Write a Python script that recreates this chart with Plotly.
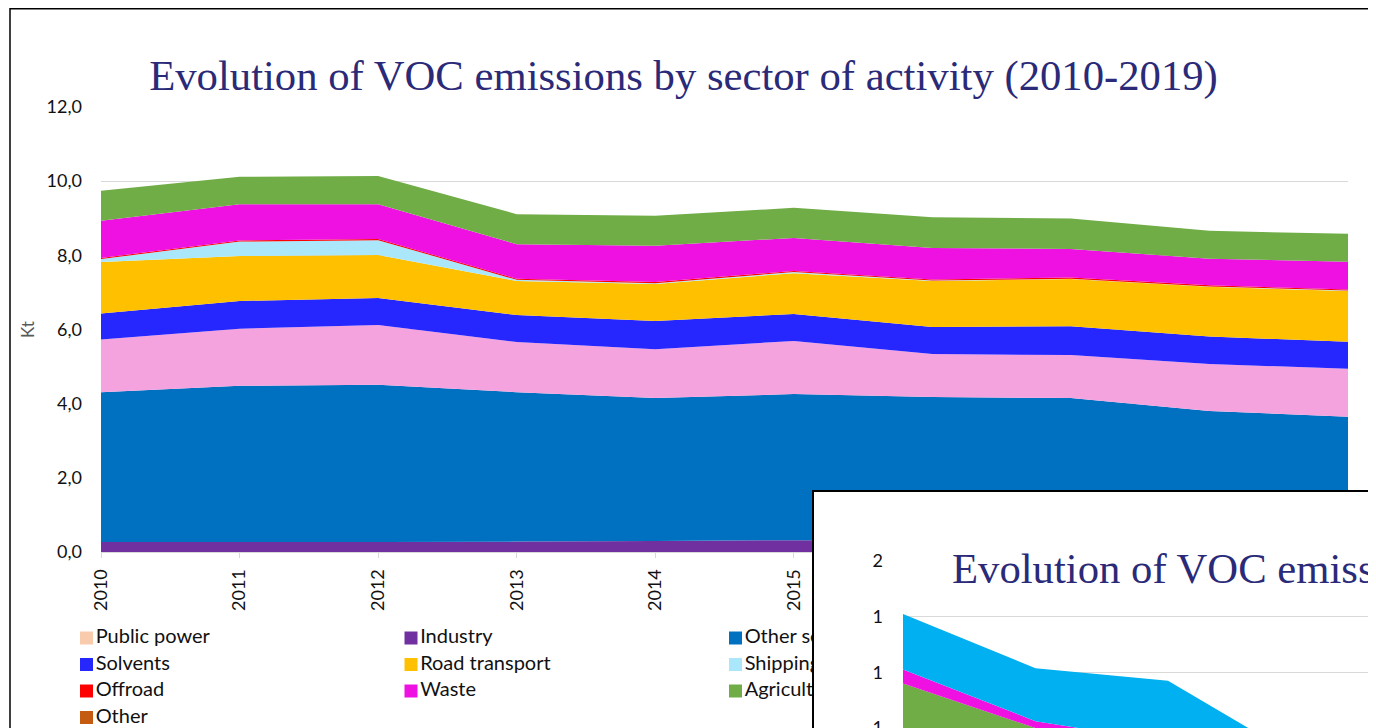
import plotly.graph_objects as go

# ---------------- data (Kt) ----------------
years = [2010, 2011, 2012, 2013, 2014, 2015, 2016, 2017, 2018, 2019]

public_power   = [0.00, 0.00, 0.00, 0.00, 0.00, 0.00, 0.00, 0.00, 0.00, 0.00]
industry       = [0.27, 0.27, 0.27, 0.28, 0.30, 0.32, 0.32, 0.32, 0.32, 0.32]
other_sectors  = [4.04, 4.21, 4.24, 4.03, 3.85, 3.94, 3.86, 3.83, 3.48, 3.33]
unlabelled     = [1.42, 1.54, 1.61, 1.35, 1.32, 1.43, 1.16, 1.16, 1.27, 1.29]
solvents       = [0.70, 0.75, 0.73, 0.73, 0.76, 0.73, 0.73, 0.78, 0.74, 0.73]
road_transport = [1.39, 1.21, 1.16, 0.92, 1.00, 1.10, 1.24, 1.27, 1.34, 1.37]
shipping       = [0.08, 0.39, 0.40, 0.03, 0.02, 0.03, 0.01, 0.01, 0.01, 0.01]
offroad        = [0.03, 0.03, 0.03, 0.03, 0.03, 0.03, 0.03, 0.03, 0.03, 0.03]
waste          = [1.00, 0.98, 0.94, 0.93, 0.98, 0.89, 0.85, 0.77, 0.72, 0.75]
agriculture    = [0.81, 0.74, 0.76, 0.81, 0.81, 0.81, 0.83, 0.82, 0.75, 0.75]
other          = [0.00, 0.00, 0.00, 0.00, 0.00, 0.00, 0.00, 0.00, 0.00, 0.00]

y_ticks = [0, 2, 4, 6, 8, 10, 12]

# overlapping (inset) chart, only partly visible
inset_years   = [2010, 2011, 2012, 2013]
inset_green   = [1.16, 1.00, 0.93, 0.70]
inset_magenta = [0.05, 0.025, 0.02, 0.02]
inset_cyan    = [0.20, 0.19, 0.22, 0.17]
inset_ticks   = [1.0, 1.2, 1.4, 1.6]

# legend (3 columns, filled row by row)
legend_names = ["Public power", "Industry", "Other sectors",
                "Solvents", "Road transport", "Shipping",
                "Offroad", "Waste", "Agriculture",
                "Other"]

colors = {
    "Public power": "#F8CBAD",
    "Industry": "#7030A0",
    "Other sectors": "#0070C0",
    "Unlabelled": "#F5A3DF",
    "Solvents": "#2626FF",
    "Road transport": "#FFC000",
    "Shipping": "#ABE7FB",
    "Offroad": "#FF0000",
    "Waste": "#EE11E2",
    "Agriculture": "#70AD47",
    "Other": "#C55A11",
}

series = [
    ("Public power", public_power),
    ("Industry", industry),
    ("Other sectors", other_sectors),
    ("Unlabelled", unlabelled),
    ("Solvents", solvents),
    ("Road transport", road_transport),
    ("Shipping", shipping),
    ("Offroad", offroad),
    ("Waste", waste),
    ("Agriculture", agriculture),
    ("Other", other),
]

W, H = 1376, 728
OX, OY = 8, 7          # page offset of the figure inside the browser window


def fx(p):
    """screen x pixel -> paper fraction"""
    return (p - OX) / W


def fy(p):
    """screen y pixel -> paper fraction"""
    return 1 - (p - OY) / H


TITLE = "Evolution of VOC emissions by sector of activity (2010-2019)"
TITLE_FONT = dict(family="Liberation Serif, Times New Roman, serif", size=42.7, color="#2A2A78")
SANS = "Lato, Carlito, Calibri, sans-serif"
GRID = "#D9D9D9"

fig = go.Figure()

# main stacked areas
for name, vals in series:
    fig.add_trace(go.Scatter(
        x=years, y=vals, name=name, stackgroup="main", mode="none",
        fillcolor=colors[name], showlegend=False, hoverinfo="x+y+name",
        xaxis="x", yaxis="y"))

# legend drawn as a marker+text trace in its own subplot
fig.add_trace(go.Scatter(
    x=[i % 3 for i in range(len(legend_names))],
    y=[i // 3 for i in range(len(legend_names))],
    text=legend_names, mode="markers+text", textposition="middle right",
    marker=dict(symbol="square", size=13, color=[colors[n] for n in legend_names],
                line=dict(width=0)),
    textfont=dict(family=SANS, size=20, color="#111111"),
    showlegend=False, hoverinfo="skip", xaxis="x2", yaxis="y2"))

# cover box of the overlapping chart
fig.add_trace(go.Scatter(x=[None], y=[None], showlegend=False, hoverinfo="skip",
                         xaxis="x3", yaxis="y3"))

# overlapping chart areas
for vals, col, nm in [(inset_green, "#70AD47", "inset green"),
                      (inset_magenta, "#EE11E2", "inset magenta"),
                      (inset_cyan, "#00B0F0", "inset cyan")]:
    fig.add_trace(go.Scatter(x=inset_years, y=vals, name=nm, stackgroup="inset",
                             mode="none", fillcolor=col, showlegend=False,
                             hoverinfo="skip", xaxis="x4", yaxis="y4"))

col_px = 324.5          # legend column spacing
row_px = 26.5           # legend row spacing
leg_top, leg_row0, leg_col0 = 610, 637, 86.5
inset_left, inset_top = 903, 560
inset_step_px, inset_unit_px = 132.5, 278.5

fig.update_layout(
    template="none",
    width=W, height=H,
    margin=dict(l=0, r=0, t=0, b=0, pad=0, autoexpand=False),
    paper_bgcolor="white", plot_bgcolor="white",
    separators=", ",
    showlegend=False,
    font=dict(family=SANS, color="#111111"),
    title=dict(text=TITLE, font=TITLE_FONT, x=(683.5 - OX) / W, xanchor="center",
               xref="container", y=fy(74), yref="container", yanchor="middle",
               automargin=False),
    xaxis=dict(domain=[fx(101), fx(1348)], range=[2010, 2019], tickvals=years,
               tickangle=-90, ticks="outside", ticklen=5, tickcolor=GRID,
               showline=True, linecolor=GRID, linewidth=1, showgrid=False,
               zeroline=False, tickfont=dict(family=SANS, size=18, color="#111111"),
               ticklabelstandoff=4, anchor="y", automargin=False),
    yaxis=dict(domain=[fy(551), fy(106)], range=[0, 12], tickvals=y_ticks,
               tickformat=".1f", showgrid=True, gridcolor=GRID, gridwidth=1,
               zeroline=False, showline=False, ticks="",
               tickfont=dict(family=SANS, size=18, color="#111111"),
               ticklabelstandoff=18,
               title=dict(text="Kt", font=dict(family=SANS, size=17, color="#595959"),
                          standoff=7),
               anchor="x", automargin=False),
    xaxis2=dict(domain=[0, 1], range=[-(leg_col0 - OX) / col_px, (W - (leg_col0 - OX)) / col_px],
                visible=False, anchor="y2", fixedrange=True, automargin=False),
    yaxis2=dict(domain=[0, fy(leg_top)],
                range=[(H - (leg_row0 - OY)) / row_px, -(leg_row0 - leg_top) / row_px],
                visible=False, anchor="x2", fixedrange=True, automargin=False),
    xaxis3=dict(domain=[fx(814), 1], range=[0, 1], side="top", showline=True,
                linecolor="#000000", linewidth=2, showgrid=False, zeroline=False,
                showticklabels=False, ticks="", anchor="y3", fixedrange=True,
                automargin=False),
    yaxis3=dict(domain=[0, fy(491)], range=[0, 1], side="left", showline=True,
                linecolor="#000000", linewidth=2, showgrid=False, zeroline=False,
                showticklabels=False, ticks="", anchor="x3", fixedrange=True,
                automargin=False),
    xaxis4=dict(domain=[fx(inset_left), 1],
                range=[2010, 2010 + (W - (inset_left - OX)) / inset_step_px],
                showgrid=False, zeroline=False, showline=False,
                showticklabels=False, ticks="", anchor="y4", automargin=False),
    yaxis4=dict(domain=[0, fy(inset_top)],
                range=[1.6 - (H - (inset_top - OY)) / inset_unit_px, 1.6],
                tickvals=inset_ticks,
                tickformat=".0f", showgrid=True, gridcolor=GRID, zeroline=False,
                showline=False, ticks="", ticklabelstandoff=19,
                ticklabeloverflow="allow",
                tickfont=dict(family=SANS, size=18, color="#111111"), anchor="x4",
                automargin=False),
    annotations=[dict(text=TITLE, x=fx(950), xref="paper", xanchor="left",
                      y=fy(568), yref="paper", yanchor="middle", showarrow=False,
                      font=TITLE_FONT)],
    shapes=[dict(type="rect", xref="paper", yref="paper", x0=fx(10), x1=1.2,
                 y0=-0.2, y1=1 - 0.75 / H, line=dict(color="#000000", width=1.5),
                 fillcolor="rgba(0,0,0,0)", layer="above")],
)

fig.write_html("out.html")
